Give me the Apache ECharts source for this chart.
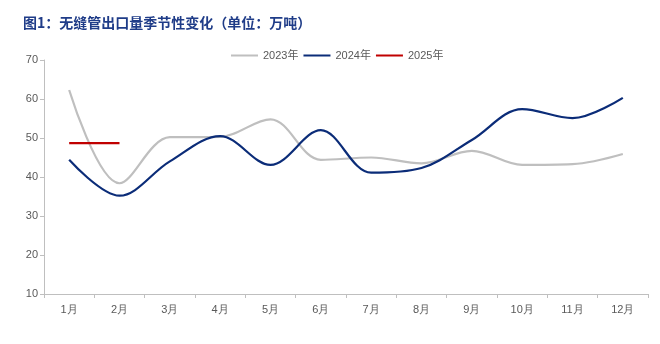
<!DOCTYPE html>
<html><head><meta charset="utf-8">
<script src="https://cdn.jsdelivr.net/npm/echarts@6/dist/echarts.min.js"></script>
<style>html,body{margin:0;padding:0;background:#fff}#c{width:660px;height:344px}</style>
</head><body><div id="c"></div>
<script>
const categories = ['1月','2月','3月','4月','5月','6月','7月','8月','9月','10月','11月','12月'];
const s2023 = [62.3, 38.4, 50.2, 50.3, 54.8, 44.4, 45.0, 43.5, 46.7, 43.1, 43.3, 45.9];
const s2024 = [44.4, 35.2, 44.0, 50.5, 43.1, 52.0, 41.1, 42.3, 49.5, 57.4, 55.1, 60.3];
const s2025 = [48.7, 48.7];
const seriesNames = ['2023年','2024年','2025年'];
const yTicks = {min: 10, max: 70, interval: 10};

const chart = echarts.init(document.getElementById('c'), null, {renderer:'canvas'});
const lbl = {color:'#595959', fontSize:11, fontFamily:'Liberation Sans, Arial, sans-serif'};
chart.setOption({
  animation:false,
  title:{text:'图1：无缝管出口量季节性变化（单位：万吨）', left:18, top:11,
    textStyle:{color:'#1f3c88', fontSize:14, fontWeight:'bold', fontFamily:'Noto Sans CJK SC'}},
  legend:{left:226, top:45, itemWidth:27, itemHeight:2, itemGap:5, icon:'rect',
    textStyle:{color:'#595959', fontSize:11, fontFamily:'Liberation Sans, Noto Sans CJK SC'},
    data:seriesNames},
  grid:{left:44, right:12, top:60, bottom:50, containLabel:false},
  xAxis:{type:'category', data:categories, boundaryGap:true,
    axisLine:{lineStyle:{color:'#bfbfbf', width:1}},
    axisTick:{show:true, length:4, lineStyle:{color:'#bfbfbf'}},
    axisLabel:Object.assign({margin:10}, lbl)},
  yAxis:{type:'value', min:yTicks.min, max:yTicks.max, interval:yTicks.interval,
    axisLine:{show:true, lineStyle:{color:'#bfbfbf', width:1}},
    axisTick:{show:true, length:4, lineStyle:{color:'#bfbfbf'}},
    splitLine:{show:false},
    axisLabel:Object.assign({margin:6}, lbl)},
  series:[
    {name:seriesNames[0], type:'line', data:s2023, smooth:0.35, showSymbol:false, symbol:'none',
      lineStyle:{color:'#bfbfbf', width:2.2}, itemStyle:{color:'#bfbfbf'}},
    {name:seriesNames[1], type:'line', data:s2024, smooth:0.35, showSymbol:false, symbol:'none',
      lineStyle:{color:'#0b2c78', width:2.2}, itemStyle:{color:'#0b2c78'}},
    {name:seriesNames[2], type:'line', data:s2025, smooth:0.35, showSymbol:false, symbol:'none',
      lineStyle:{color:'#c00000', width:2.2}, itemStyle:{color:'#c00000'}}
  ]
});
</script></body></html>
